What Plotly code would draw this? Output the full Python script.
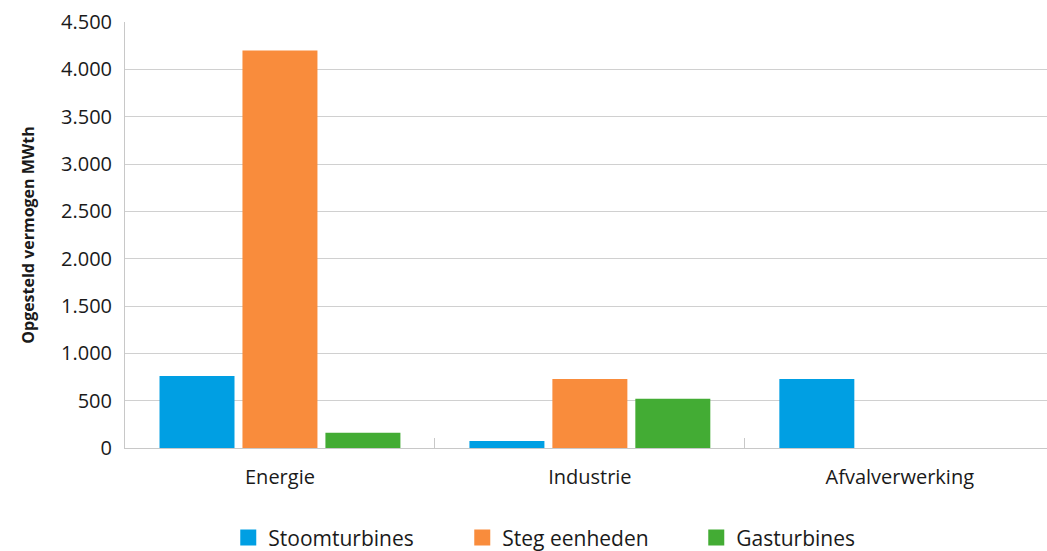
import plotly.graph_objects as go

categories = ["Energie", "Industrie", "Afvalverwerking"]
stoomturbines = [760, 75, 730]
steg_eenheden = [4200, 730, 0]
gasturbines = [160, 520, 0]

series = [
    ("Stoomturbines", stoomturbines, "#009FE3"),
    ("Steg eenheden", steg_eenheden, "#F98C3C"),
    ("Gasturbines", gasturbines, "#43AC34"),
]

font_family = "Open Sans, Noto Sans, sans-serif"

fig = go.Figure()
for name, vals, color in series:
    fig.add_trace(go.Bar(x=categories, y=vals, name=name, marker_color=color,
                         marker_line_width=0, legendgroup=name, showlegend=False))
# legend entries with larger square swatches
for name, vals, color in series:
    fig.add_trace(go.Scatter(x=[None], y=[None], mode="markers", name=name,
                             legendgroup=name,
                             marker=dict(symbol="square", size=17, color=color)))

fig.update_layout(
    width=1047, height=551,
    margin=dict(l=125, r=0, t=22, b=103, autoexpand=False),
    paper_bgcolor="white", plot_bgcolor="white",
    barmode="group", bargap=0.197, bargroupgap=0.096,
    separators=",.",
    font=dict(family=font_family, size=19, color="#1a1a1a"),
    showlegend=True,
    legend=dict(orientation="h", x=0.112, xanchor="left", y=-0.163, yanchor="top",
                entrywidth=189, entrywidthmode="pixels",
                font=dict(size=21), itemsizing="trace"),
)
fig.update_xaxes(
    range=[-0.5, 2.475],
    showline=True, linecolor="#c8c8c8", linewidth=1,
    ticks="inside", tickson="boundaries", ticklen=10, tickcolor="#c8c8c8",
    showgrid=False, tickfont=dict(size=20), ticklabelstandoff=11,
)
fig.update_yaxes(
    range=[0, 4500], dtick=500, tickformat=",d",
    showgrid=True, gridcolor="#d0d0d0", gridwidth=1,
    showline=True, linecolor="#c8c8c8", linewidth=1,
    zeroline=False, ticks="", ticklabelstandoff=8,
    title=dict(text="<b>Opgesteld vermogen MWth</b>", font=dict(size=16), standoff=22),
    tickfont=dict(size=20),
)

fig.write_html("out.html")
